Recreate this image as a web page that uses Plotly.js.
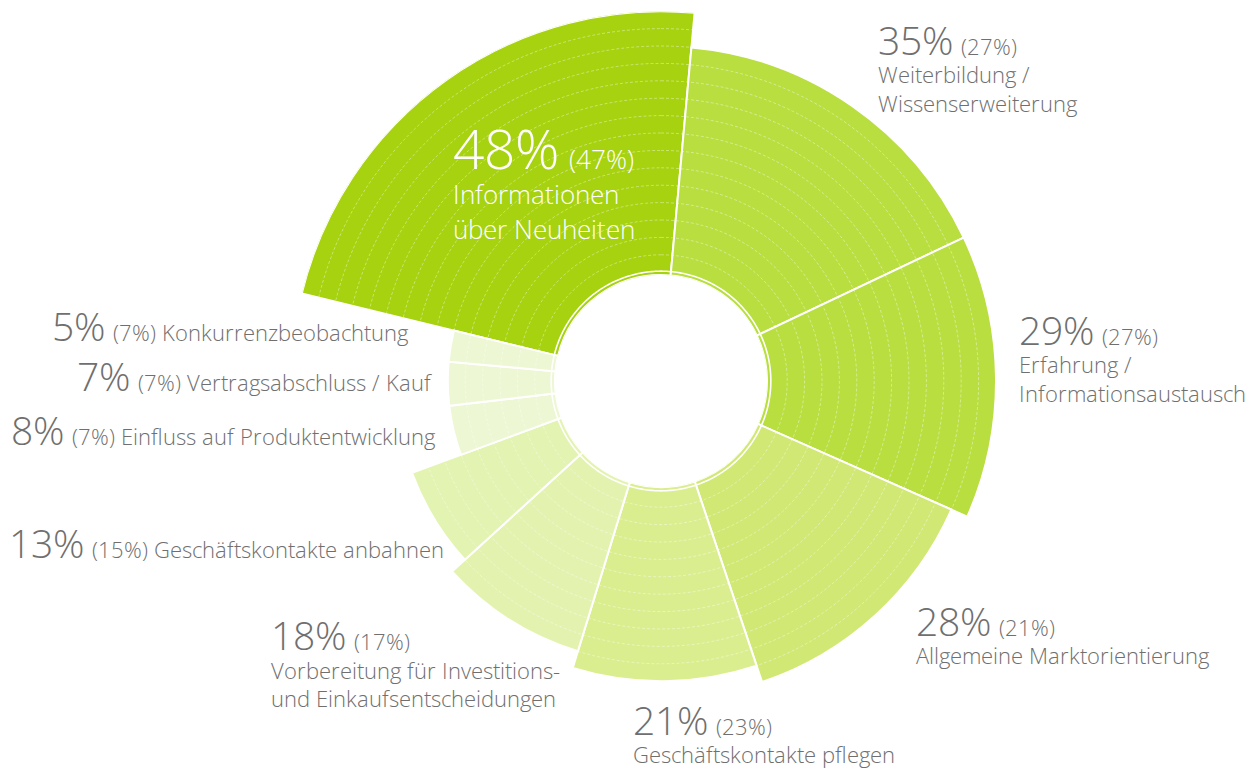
<!DOCTYPE html>
<html>
<head>
<meta charset="utf-8">
<script src="https://cdn.plot.ly/plotly-3.0.1.min.js"></script>
<style>
  @font-face {
    font-family: "OSLight";
    src: local("Open Sans Light"), local("OpenSans-Light"), local("Open Sans");
    font-weight: 300;
    font-style: normal;
    ascent-override: 92%;
    descent-override: 16%;
    line-gap-override: 0%;
  }
  html, body { margin: 0; padding: 0; background: #ffffff; }
  #chart { width: 1250px; height: 770px; }
</style>
</head>
<body>
<div id="chart"></div>
<script>
// ---------------- DATA ----------------
const categories = [
  "Informationen über Neuheiten",
  "Weiterbildung / Wissenserweiterung",
  "Erfahrung / Informationsaustausch",
  "Allgemeine Marktorientierung",
  "Geschäftskontakte pflegen",
  "Vorbereitung für Investitions- und Einkaufsentscheidungen",
  "Geschäftskontakte anbahnen",
  "Einfluss auf Produktentwicklung",
  "Vertragsabschluss / Kauf",
  "Konkurrenzbeobachtung"
];
const descLines = [
  ["Informationen", "über Neuheiten"],
  ["Weiterbildung /", "Wissenserweiterung"],
  ["Erfahrung /", "Informationsaustausch"],
  ["Allgemeine Marktorientierung"],
  ["Geschäftskontakte pflegen"],
  ["Vorbereitung für Investitions-", "und Einkaufsentscheidungen"],
  ["Geschäftskontakte anbahnen"],
  ["Einfluss auf Produktentwicklung"],
  ["Vertragsabschluss / Kauf"],
  ["Konkurrenzbeobachtung"]
];
const values   = [48, 35, 29, 28, 21, 18, 13, 8, 7, 5];   // share (sector angle)
const previous = [47, 27, 27, 21, 23, 17, 15, 7, 7, 7];   // value in brackets
const ringLevels = [15, 13, 13, 12, 11, 10, 9, 6, 6, 6];  // sector length in rings

// ---------------- STYLE / LAYOUT ----------------
const colors = ["#A6D20F", "#B9DE40", "#B9DE40", "#D1E875", "#DBEE8F",
                "#E3F3AF", "#E3F3B1", "#EDF7D4", "#EDF7D4", "#EDF7D4"];
const W = 1250, H = 770;
const CX = 661, CY = 381;          // centre in px
const R_OUT = 369.8;               // px radius of the radial range end
const R_HOLE = 106;                // px radius of the hole
const BASE = -0.16;                // radial value at hole edge
const RMAX = 15;
const START_ANGLE = 283.7;         // where the first sector begins (clockwise from top)
const TEXT_GRAY = "#6f6f6f";
const FONT = "OSLight, Open Sans, Noto Sans, sans-serif";
const ASC = 0.92;                  // ascent (em) of the font face above

// label placement: left x (px), baseline of first line (px), big-number size,
// text size, line spacing (px), inline = single line
const labelPos = [
  {x: 453, base: 168.3, big: 55,   txt: 26.3, gap: 35,   color: "#ffffff"},
  {x: 878, base: 55,    big: 38.5, txt: 21.7, gap: 28.3},
  {x: 1019, base: 345,  big: 38.5, txt: 21.7, gap: 28.3},
  {x: 916, base: 636.7, big: 38.5, txt: 21.7, gap: 28.3},
  {x: 633, base: 735,   big: 38.5, txt: 21.7, gap: 28.3},
  {x: 271, base: 650,   big: 38.5, txt: 21.7, gap: 28.6},
  {x: 9,   base: 558,   big: 38.5, txt: 21.5, gap: 28.3, inline: true},
  {x: 11,  base: 445,   big: 38.5, txt: 21.5, gap: 28.3, inline: true},
  {x: 77,  base: 391.7, big: 38.5, txt: 21.5, gap: 28.3, inline: true},
  {x: 52,  base: 341,   big: 38.5, txt: 21.5, gap: 28.3, inline: true}
];

// ---------------- GEOMETRY FROM DATA ----------------
const total = values.reduce((a, b) => a + b, 0);
const widths = values.map(v => v / total * 360);
const thetas = [];
let acc = START_ANGLE;
widths.forEach(w => { thetas.push(acc + w / 2); acc += w; });

const traces = [];
traces.push({
  type: "barpolar",
  r: ringLevels.map(l => l - BASE),
  base: BASE,
  theta: thetas,
  width: widths,
  text: categories,
  marker: {color: colors, line: {color: "#ffffff", width: 2}},
  hoverinfo: "skip",
  showlegend: false
});

// faint concentric ring lines (radial grid drawn above the sectors)
const circTheta = [];
for (let a = 0; a <= 360; a += 1) circTheta.push(a);
for (let k = 1; k < RMAX; k++) {
  traces.push({
    type: "scatterpolar", mode: "lines",
    r: circTheta.map(() => k), theta: circTheta,
    line: {color: "rgba(255,255,255,0.4)", width: 1, dash: "3px,2px"},
    hoverinfo: "skip", showlegend: false
  });
}
// white separator ring near the hole
traces.push({
  type: "scatterpolar", mode: "lines",
  r: circTheta.map(() => 0.06), theta: circTheta,
  line: {color: "#ffffff", width: 1.6},
  hoverinfo: "skip", showlegend: false
});

// ---------------- ANNOTATIONS ----------------
const px = x => x / W;
const py = y => 1 - y / H;
const span = (s, size) => "<span style='font-size:" + size + "px'>" + s + "</span>";
const annotations = values.map((v, i) => {
  const p = labelPos[i];
  const col = p.color || TEXT_GRAY;
  const head = span(v + "%", p.big) + span(" \u200A(" + previous[i] + "%)", p.txt);
  const text = p.inline
    ? head + span(" " + descLines[i].join(" "), p.txt)
    : [head].concat(descLines[i].map(l => span(l, p.txt))).join("<br>");
  const yTop = p.base - ASC * p.big;
  return {
    text: text, x: px(p.x), y: py(yTop), xref: "paper", yref: "paper",
    xanchor: "left", yanchor: "top", align: "left", showarrow: false,
    borderpad: 0, borderwidth: 0,
    font: {family: FONT, size: p.gap / 1.3, color: col, weight: 300}
  };
});

const layout = {
  width: W, height: H,
  margin: {l: 0, r: 0, t: 0, b: 0},
  paper_bgcolor: "#ffffff",
  plot_bgcolor: "#ffffff",
  showlegend: false,
  polar: {
    domain: {x: [px(CX - R_OUT), px(CX + R_OUT)], y: [py(CY + R_OUT), py(CY - R_OUT)]},
    hole: R_HOLE / R_OUT,
    bgcolor: "#ffffff",
    bargap: 0,
    radialaxis: {range: [BASE, RMAX], visible: false, showgrid: false},
    angularaxis: {rotation: 90, direction: "clockwise", visible: false, showgrid: false}
  },
  annotations: annotations
};

function draw() {
  Plotly.newPlot("chart", traces, layout, {displayModeBar: false, staticPlot: true});
}
if (document.fonts && document.fonts.load) {
  document.fonts.load("300 20px OSLight").then(draw, draw);
} else {
  draw();
}
</script>
</body>
</html>
